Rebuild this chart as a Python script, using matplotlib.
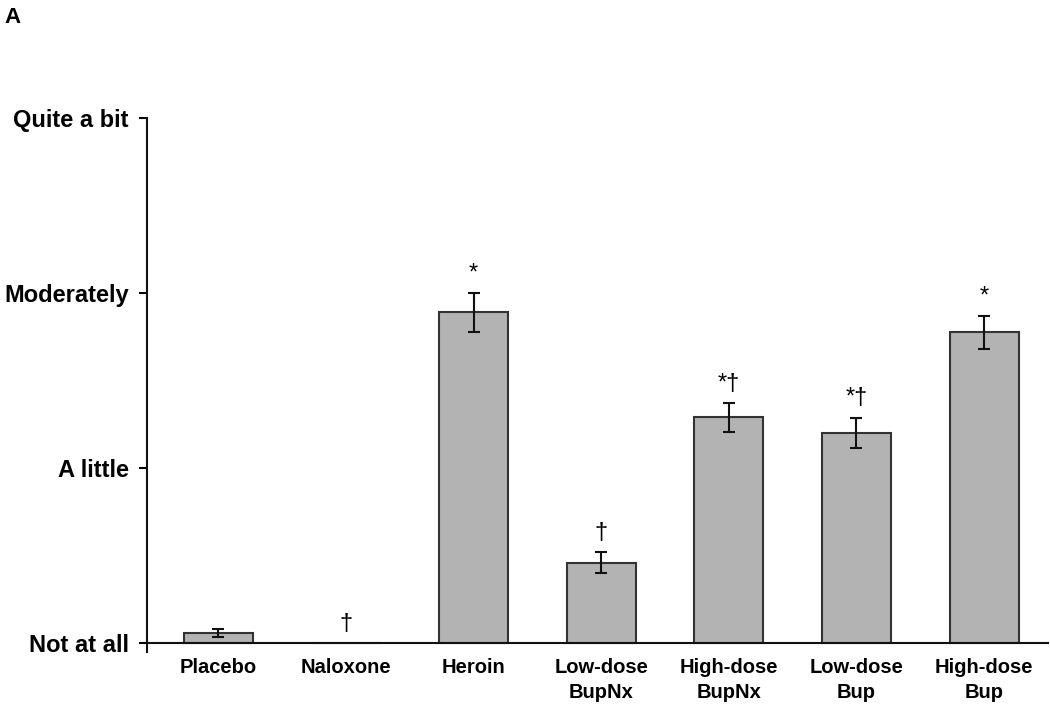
import matplotlib
matplotlib.use("Agg")
import matplotlib.pyplot as plt
import numpy as np

plt.rcParams["font.family"] = ["Liberation Sans", "DejaVu Sans"]
plt.rcParams["font.weight"] = "bold"

# ── Data ────────────────────────────────────────────────────────────
conditions = ["Placebo", "Naloxone", "Heroin", "Low-dose\nBupNx",
              "High-dose\nBupNx", "Low-dose\nBup", "High-dose\nBup"]
means = [0.06, 0.0, 1.89, 0.46, 1.29, 1.20, 1.775]
sems = [0.023, 0.0, 0.112, 0.059, 0.081, 0.087, 0.096]
marks = ["", "\u2020", "*", "\u2020", "*\u2020", "*\u2020", "*"]
ytick_vals = [0, 1, 2, 3]
ytick_labels = ["Not at all", "A little", "Moderately", "Quite a bit"]

BAR = "#b3b3b3"
EDGE = "#333333"

fig = plt.figure(figsize=(10.5, 7.07), dpi=100)
ax = fig.add_axes([0.14, 0.078, 0.858, 0.755])

# spines first (set_position resets tick settings)
ax.spines["top"].set_visible(False)
ax.spines["right"].set_visible(False)
ax.spines["bottom"].set_position(("data", 0))
for side in ("bottom", "left"):
    ax.spines[side].set_linewidth(1.5)
    ax.spines[side].set_color("#111111")

x = np.arange(len(conditions))
m = np.array(means)
s = np.array(sems)
ax.bar(x, m, width=0.54, color=BAR, edgecolor=EDGE, linewidth=1.5, zorder=2)
has_err = s > 0
ax.errorbar(x[has_err], m[has_err], yerr=s[has_err], fmt="none",
            ecolor="#111111", elinewidth=1.5, capsize=4.5, capthick=1.5, zorder=3)

for xi, mi, si, lab in zip(x, m, s, marks):
    if lab:
        ax.annotate(lab, xy=(xi, mi + si), xytext=(0, 14), textcoords="offset points",
                    ha="center", va="center", fontsize=17, fontweight="normal")

ax.set_xlim(-0.56, 6.5)
ax.set_ylim(-0.05, 3)
ax.set_yticks(ytick_vals)
ax.set_yticklabels(ytick_labels, fontsize=17, fontweight="bold")
ax.set_xticks(x)
ax.set_xticklabels(conditions, fontsize=14.5, fontweight="bold", linespacing=1.4)
ax.tick_params(axis="x", length=0, pad=11)
ax.tick_params(axis="y", direction="out", length=6, width=1.5, pad=7)

fig.text(0.004, 0.99, "A", fontsize=16, fontweight="bold", va="top", ha="left")

fig.savefig("out.png", dpi=100, facecolor="white")
